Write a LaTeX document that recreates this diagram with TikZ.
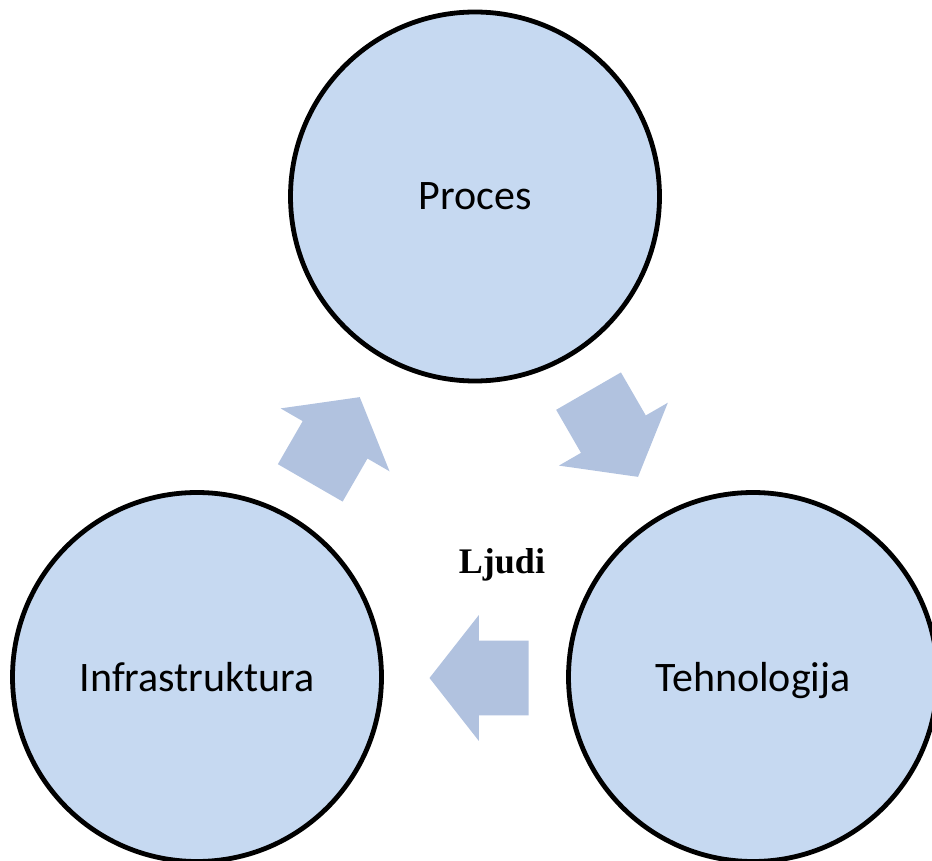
\documentclass[tikz,border=0pt]{standalone}
\usepackage{fontspec}
\setmainfont{Carlito}
\newfontfamily\ljudifont{Liberation Serif}
\usetikzlibrary{shapes.arrows}
\definecolor{circfill}{HTML}{C6D9F1}
\definecolor{arrfill}{HTML}{B1C2DF}
\tikzset{
    element/.style={
    circle,draw=black,line width=2.4pt,fill=circfill,
    minimum size=184.5pt,inner sep=0pt,text depth=0pt,
    font=\fontsize{21}{25}\selectfont
    },
    cyclearrow/.style={
    single arrow,fill=arrfill,draw=none,inner xsep=0pt,inner ysep=18.5pt,
    minimum height=49.5pt,
    single arrow head extend=12.75pt,single arrow tip angle=103.8,
    anchor=tip
    },
}
\begin{document}
\begin{tikzpicture}[x=0.5pt,y=-0.5pt]
  \useasboundingbox (0,0) rectangle (932,861);
  \node[element] (PRO) at (475,196.5) {Proces};
  \node[element] (INF) at (197,677) {Infrastruktura};
  \node[element] (TEH) at (753,677) {Tehnologija};

  \node[cyclearrow,rotate=60] (A1) at (360,396.7) {};
  \node[cyclearrow,rotate=-60] (A2) at (638.3,477.3) {};
  \node[cyclearrow,rotate=180] (A3) at (429,678) {};

  \node[font=\ljudifont\bfseries\fontsize{18}{22}\selectfont] (LJ) at (502,565) {Ljudi};
\end{tikzpicture}
\end{document}
